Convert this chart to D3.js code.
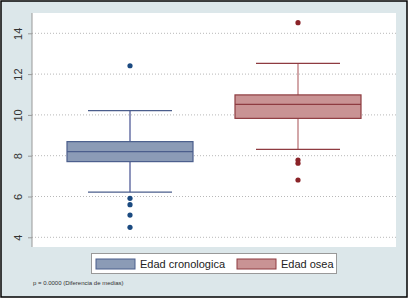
<!DOCTYPE html>
<html>
<head>
<meta charset="utf-8">
<script src="https://cdn.jsdelivr.net/npm/d3@7"></script>
<style>
  html, body { margin: 0; padding: 0; background: #fff; }
  svg { display: block; font-family: "Liberation Sans", Arial, sans-serif; }
</style>
</head>
<body>
<svg id="chart" width="409" height="299"></svg>
<script>
const width = 409;
const height = 299;

// box statistics
const groups = ["Edad cronologica", "Edad osea"];
const q1 = [7.71, 9.83];
const median = [8.20, 10.52];
const q3 = [8.69, 10.98];
const whiskerLow = [6.21, 8.31];
const whiskerHigh = [10.21, 12.53];
const outliers = [
  [12.41, 5.91, 5.60, 5.09, 4.49],
  [14.52, 7.79, 7.63, 6.81]
];
const yTicks = [4, 6, 8, 10, 12, 14];

const fills = ["#8b9bb6", "#c99394"];
const strokes = ["#4b5e8c", "#8e3b40"];
const whiskerCol = ["#6872a6", "#c58a8c"];
const dotCol = ["#1b4a80", "#8a2328"];

const plot = { left: 32, right: 396, top: 13, bottom: 247 };

const svg = d3.select("#chart");

// outer background + frame
svg.append("rect")
  .attr("x", 1).attr("y", 1)
  .attr("width", width - 3).attr("height", height - 3)
  .attr("fill", "#dce7ea")
  .attr("stroke", "#000")
  .attr("stroke-width", 1.5);

svg.append("rect")
  .attr("x", plot.left).attr("y", plot.top)
  .attr("width", plot.right - plot.left)
  .attr("height", plot.bottom - plot.top)
  .attr("fill", "#fff");

const y = d3.scaleLinear().domain([4, 14]).range([237.3, 33.3]);
const x = d3.scalePoint().domain(groups).range([130, 298]);
const boxW = 126;
const capW = 84;

// grid
svg.append("g")
  .selectAll("line")
  .data(yTicks)
  .join("line")
  .attr("x1", plot.left).attr("x2", plot.right)
  .attr("y1", d => y(d)).attr("y2", d => y(d))
  .attr("stroke", "#b8b8b8")
  .attr("stroke-dasharray", "1,2");

// y axis
const yAxis = svg.append("g")
  .attr("transform", `translate(${plot.left},0)`)
  .call(d3.axisLeft(y).tickValues(yTicks).tickSize(4).tickSizeOuter(0));
yAxis.select(".domain")
  .attr("d", `M0,${plot.top}V${plot.bottom}`)
  .attr("stroke", "#999");
yAxis.selectAll(".tick line").attr("stroke", "#999");
yAxis.selectAll(".tick text")
  .attr("x", 0).attr("dy", 0)
  .attr("transform", "translate(-10,0) rotate(-90)")
  .attr("text-anchor", "middle")
  .attr("font-size", 11)
  .attr("font-family", "Liberation Sans, Arial, sans-serif")
  .attr("fill", "#333");

// boxes
groups.forEach((g, i) => {
  const cx = x(g);
  const box = svg.append("g");

  box.append("line")
    .attr("x1", cx).attr("x2", cx)
    .attr("y1", y(whiskerHigh[i])).attr("y2", y(q3[i]))
    .attr("stroke", whiskerCol[i]).attr("stroke-width", 1.5);
  box.append("line")
    .attr("x1", cx).attr("x2", cx)
    .attr("y1", y(q1[i])).attr("y2", y(whiskerLow[i]))
    .attr("stroke", whiskerCol[i]).attr("stroke-width", 1.5);

  [whiskerHigh[i], whiskerLow[i]].forEach(v => {
    box.append("line")
      .attr("x1", cx - capW / 2).attr("x2", cx + capW / 2)
      .attr("y1", y(v)).attr("y2", y(v))
      .attr("stroke", strokes[i]).attr("stroke-width", 1.2);
  });

  box.append("rect")
    .attr("x", cx - boxW / 2).attr("width", boxW)
    .attr("y", y(q3[i])).attr("height", y(q1[i]) - y(q3[i]))
    .attr("fill", fills[i])
    .attr("stroke", strokes[i]).attr("stroke-width", 1.2);

  box.append("line")
    .attr("x1", cx - boxW / 2).attr("x2", cx + boxW / 2)
    .attr("y1", y(median[i])).attr("y2", y(median[i]))
    .attr("stroke", strokes[i]).attr("stroke-width", 1.2);

  box.selectAll("circle")
    .data(outliers[i])
    .join("circle")
    .attr("cx", cx).attr("cy", d => y(d))
    .attr("r", 2.6)
    .attr("fill", dotCol[i]);
});

// legend
const legend = svg.append("g");
legend.append("rect")
  .attr("x", 91.5).attr("y", 253.5)
  .attr("width", 245).attr("height", 20)
  .attr("fill", "#fff")
  .attr("stroke", "#999");

const legX = [96, 237];
groups.forEach((g, i) => {
  legend.append("rect")
    .attr("x", legX[i]).attr("y", 259)
    .attr("width", 39).attr("height", 10)
    .attr("fill", fills[i])
    .attr("stroke", strokes[i]);
  legend.append("text")
    .attr("x", legX[i] + 44).attr("y", 268)
    .attr("font-size", 11)
    .attr("fill", "#222")
    .text(g === "Edad cronologica" ? "Edad cronologica" : "Edad osea");
});

svg.append("text")
  .attr("x", 33).attr("y", 285)
  .attr("font-size", 6)
  .attr("fill", "#333")
  .text("p = 0.0000 (Diferencia de medias)");
</script>
</body>
</html>
